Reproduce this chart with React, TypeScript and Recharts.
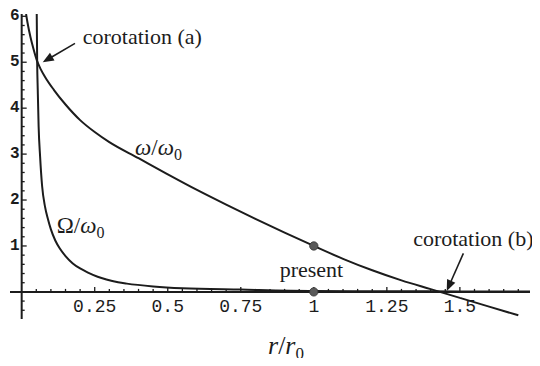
import React from 'react';
import { ComposedChart, Line, XAxis, YAxis, ReferenceLine, ReferenceDot } from 'recharts';

// ---- data ----
const omegaR = [0.015, 0.02, 0.03, 0.04, 0.052, 0.065, 0.08, 0.11, 0.15, 0.2, 0.25, 0.3, 0.4, 0.5, 0.6, 0.7, 0.8, 0.9, 1.0, 1.1, 1.2, 1.3, 1.4, 1.5, 1.6, 1.7];
const omegaV = [6.05, 5.86, 5.55, 5.3, 5.04, 4.85, 4.68, 4.4, 4.08, 3.74, 3.48, 3.26, 2.91, 2.56, 2.22, 1.9, 1.59, 1.29, 1.0, 0.72, 0.47, 0.25, 0.06, -0.13, -0.32, -0.51];

const bigOmegaR = [0.0515, 0.053, 0.055, 0.058, 0.063, 0.07, 0.08, 0.09, 0.1, 0.115, 0.13, 0.15, 0.175, 0.2, 0.227, 0.26, 0.29, 0.33, 0.36, 0.45, 0.55, 0.75, 1.0, 1.25, 1.5, 1.74];
const bigOmegaV = [6.05, 5.0, 4.4, 3.6, 2.95, 2.3, 1.85, 1.58, 1.36, 1.12, 0.95, 0.78, 0.62, 0.51, 0.42, 0.33, 0.27, 0.21, 0.18, 0.12, 0.08, 0.05, 0.02, 0.015, 0.01, 0.008];

const presentPoints = [
  { r: 1, v: 1 },
  { r: 1, v: 0 },
];

const xMajorTicks = [0.25, 0.5, 0.75, 1, 1.25, 1.5];
const xTickLabels = ['0.25', '0.5', '0.75', '1', '1.25', '1.5'];
const xMinorTicks = [0.05, 0.1, 0.15, 0.2, 0.3, 0.35, 0.4, 0.45, 0.55, 0.6, 0.65, 0.7, 0.8, 0.85, 0.9, 0.95, 1.05, 1.1, 1.15, 1.2, 1.3, 1.35, 1.4, 1.45, 1.55, 1.6, 1.65, 1.7];
const yMajorTicks = [1, 2, 3, 4, 5, 6];
const yTickLabels = ['1', '2', '3', '4', '5', '6'];
const yMinorTicks = [-0.4, -0.2, 0.2, 0.4, 0.6, 0.8, 1.2, 1.4, 1.6, 1.8, 2.2, 2.4, 2.6, 2.8, 3.2, 3.4, 3.6, 3.8, 4.2, 4.4, 4.6, 4.8, 5.2, 5.4, 5.6, 5.8];

// annotation anchors (data coordinates)
const corotationA = { text: 'corotation (a)', r: 0.209, v: 5.4, from: { x: 0.1825, y: 5.41 }, to: { x: 0.072, y: 5.0 } };
const corotationB = { text: 'corotation (b)', r: 1.34, v: 1.0, from: { x: 1.512, y: 0.84 }, to: { x: 1.455, y: 0.02 } };
const presentLabel = { text: 'present', r: 0.992, v: 0.32 };
const omegaLabel = { r: 0.388, v: 2.98 };
const bigOmegaLabel = { r: 0.12, v: 1.28 };

const xDomain: [number, number] = [-0.04, 1.74];
const yDomain: [number, number] = [-0.59, 6.05];

const omegaData = omegaR.map((r, i) => ({ r, v: omegaV[i] }));
const bigOmegaData = bigOmegaR.map((r, i) => ({ r, v: bigOmegaV[i] }));

const INK = '#1c1c1c';
const SERIF = '"Liberation Serif", "Times New Roman", serif';
const MONO = '"Liberation Mono", "Courier New", monospace';

const yTickShape = (len: number) => (p: any) => (
  <line x1={p.cx} y1={p.cy} x2={p.cx + len} y2={p.cy} stroke={INK} strokeWidth={1.3} />
);
const xTickShape = (len: number) => (p: any) => (
  <line x1={p.cx} y1={p.cy} x2={p.cx} y2={p.cy - len} stroke={INK} strokeWidth={1.3} />
);
const yLabelShape = (txt: string) => (p: any) => (
  <text x={p.cx - 2} y={p.cy} textAnchor="end" dominantBaseline="central" fontFamily={MONO} fontWeight="bold" fontSize={16} fill={INK}>{txt}</text>
);
const xLabelShape = (txt: string) => (p: any) => (
  <text x={p.cx} y={p.cy + 15} textAnchor="middle" dominantBaseline="central" fontFamily={MONO} fontSize={18} fill={INK}>{txt}</text>
);
const textShape = (txt: string, anchor: 'start' | 'middle' | 'end') => (p: any) => (
  <text x={p.cx} y={p.cy} textAnchor={anchor} fontFamily={SERIF} fontSize={22} fill={INK}>{txt}</text>
);
const omegaLabelShape = (p: any) => (
  <text x={p.cx} y={p.cy} fontFamily={SERIF} fontSize={23} fill={INK}>
    <tspan fontStyle="italic">ω</tspan>
    <tspan>/</tspan>
    <tspan fontStyle="italic">ω</tspan>
    <tspan fontSize={16} dy={5}>0</tspan>
  </text>
);
const bigOmegaLabelShape = (p: any) => (
  <text x={p.cx} y={p.cy} fontFamily={SERIF} fontSize={23} fill={INK}>
    <tspan>Ω</tspan>
    <tspan>/</tspan>
    <tspan fontStyle="italic">ω</tspan>
    <tspan fontSize={16} dy={5}>0</tspan>
  </text>
);
const presentDotShape = (p: any) => <circle cx={p.cx} cy={p.cy} r={4.2} fill="#5a5a5a" stroke="#333" strokeWidth={0.8} />;

const Arrow = (p: any) => {
  const { x1, y1, x2, y2 } = p;
  const dx = x2 - x1;
  const dy = y2 - y1;
  const L = Math.hypot(dx, dy) || 1;
  const ux = dx / L;
  const uy = dy / L;
  const hl = 11;
  const hw = 4.5;
  const bx = x2 - ux * hl;
  const by = y2 - uy * hl;
  return (
    <g>
      <line x1={x1} y1={y1} x2={bx + ux * 2} y2={by + uy * 2} stroke={INK} strokeWidth={1.6} />
      <polygon points={`${x2},${y2} ${bx - uy * hw},${by + ux * hw} ${bx + uy * hw},${by - ux * hw}`} fill={INK} />
    </g>
  );
};

const AxisTitle = (props: any) => {
  const vb = props.viewBox || { x: 0, y: 0, width: 0, height: 0 };
  return (
    <text x={vb.x + vb.width / 2 + 16} y={vb.y + vb.height - 12} textAnchor="middle" fontFamily={SERIF} fontSize={26} fill={INK}>
      <tspan fontStyle="italic">r</tspan>
      <tspan>/</tspan>
      <tspan fontStyle="italic">r</tspan>
      <tspan fontSize={17} dy={5}>0</tspan>
    </text>
  );
};

export default function App() {
  return (
    <div style={{ margin: '-8px', background: '#fff', width: 540, height: 366 }}>
      <ComposedChart width={540} height={366} margin={{ top: 14, right: 10, left: 10, bottom: 0 }}>
        <XAxis
          type="number"
          dataKey="r"
          domain={xDomain}
          allowDataOverflow
          height={47}
          tick={false}
          tickLine={false}
          axisLine={false}
          label={{ content: AxisTitle } as any}
        />
        <YAxis type="number" dataKey="v" domain={yDomain} allowDataOverflow hide />

        <ReferenceLine y={0} stroke={INK} strokeWidth={2} />
        <ReferenceLine x={0} stroke={INK} strokeWidth={2} />

        {yMinorTicks.map((t) => (
          <ReferenceDot key={'ym' + t} x={0} y={t} r={0} shape={yTickShape(3)} ifOverflow="visible" />
        ))}
        {yMajorTicks.map((t) => (
          <ReferenceDot key={'yM' + t} x={0} y={t} r={0} shape={yTickShape(5)} ifOverflow="visible" />
        ))}
        {yMajorTicks.map((t, i) => (
          <ReferenceDot key={'yL' + t} x={0} y={t} r={0} shape={yLabelShape(yTickLabels[i])} ifOverflow="visible" />
        ))}
        {xMinorTicks.map((t) => (
          <ReferenceDot key={'xm' + t} x={t} y={0} r={0} shape={xTickShape(3)} ifOverflow="visible" />
        ))}
        {xMajorTicks.map((t) => (
          <ReferenceDot key={'xM' + t} x={t} y={0} r={0} shape={xTickShape(5)} ifOverflow="visible" />
        ))}
        {xMajorTicks.map((t, i) => (
          <ReferenceDot key={'xL' + t} x={t} y={0} r={0} shape={xLabelShape(xTickLabels[i])} ifOverflow="visible" />
        ))}

        <Line data={omegaData} dataKey="v" type="monotone" stroke={INK} strokeWidth={2} dot={false} isAnimationActive={false} />
        <Line data={bigOmegaData} dataKey="v" type="monotone" stroke={INK} strokeWidth={2} dot={false} isAnimationActive={false} />

        {presentPoints.map((p, i) => (
          <ReferenceDot key={'pd' + i} x={p.r} y={p.v} r={4} shape={presentDotShape} ifOverflow="visible" />
        ))}

        <ReferenceLine segment={[corotationA.from, corotationA.to]} shape={Arrow} ifOverflow="visible" />
        <ReferenceLine segment={[corotationB.from, corotationB.to]} shape={Arrow} ifOverflow="visible" />

        <ReferenceDot x={corotationA.r} y={corotationA.v} r={0} shape={textShape(corotationA.text, 'start')} ifOverflow="visible" />
        <ReferenceDot x={corotationB.r} y={corotationB.v} r={0} shape={textShape(corotationB.text, 'start')} ifOverflow="visible" />
        <ReferenceDot x={presentLabel.r} y={presentLabel.v} r={0} shape={textShape(presentLabel.text, 'middle')} ifOverflow="visible" />
        <ReferenceDot x={omegaLabel.r} y={omegaLabel.v} r={0} shape={omegaLabelShape} ifOverflow="visible" />
        <ReferenceDot x={bigOmegaLabel.r} y={bigOmegaLabel.v} r={0} shape={bigOmegaLabelShape} ifOverflow="visible" />
      </ComposedChart>
    </div>
  );
}
